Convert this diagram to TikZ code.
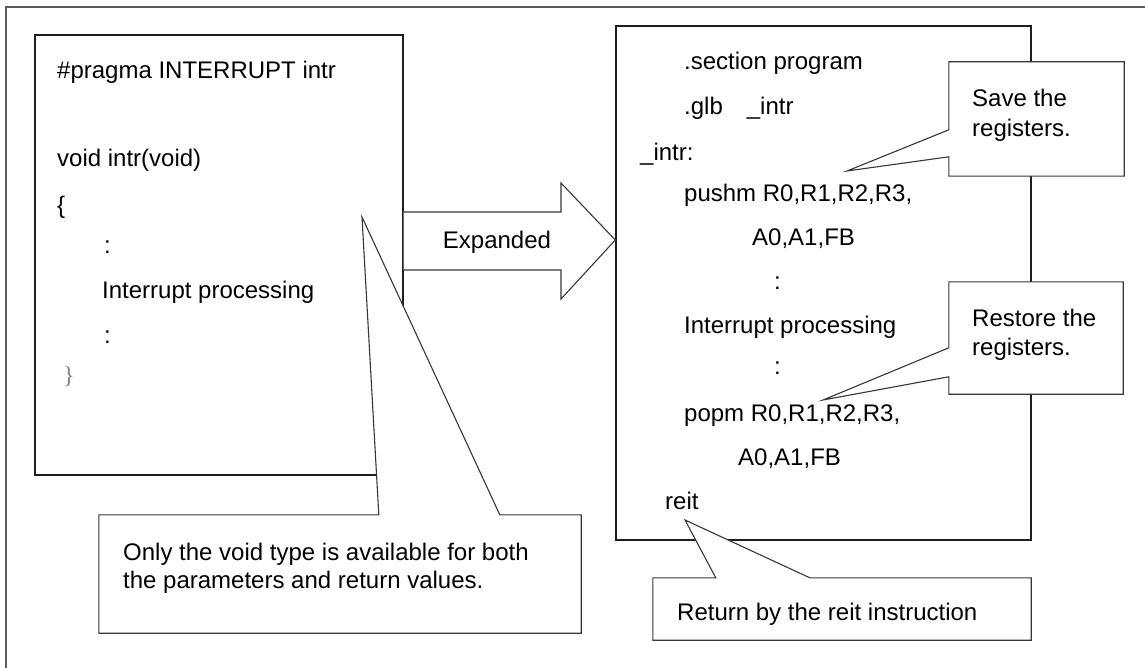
\documentclass[tikz,border=0pt]{standalone}
\usepackage{fontspec}
\setmainfont{Liberation Sans}
\newfontfamily\bracefont{Liberation Serif}
\usepackage{tikz}
\usetikzlibrary{calc}
\definecolor{frame}{RGB}{90, 90, 90}
\definecolor{ink}{RGB}{30, 30, 30}
\definecolor{note}{RGB}{55, 55, 55}
\tikzstyle{codebox} = [rectangle, draw=ink, line width=1.4pt, fill=white, inner sep=0pt]
\tikzstyle{notebox} = [rectangle, draw=none, inner sep=0pt]
\tikzstyle{callout} = [draw=note, line width=1.1pt, fill=white, line join=miter]
\tikzstyle{bigarrow} = [draw=note, line width=1.1pt, fill=white, line join=miter]
\tikzstyle{code} = [anchor=base west, inner sep=0pt, text=black, font=\fontsize{24}{28}\selectfont]

\begin{document}
\begin{tikzpicture}[x=1pt, y=-1pt]
\useasboundingbox (0,0) rectangle (1145,668);

% frame
\draw[frame, line width=1.5pt] (6,668) -- (6,7) -- (1145,7);

% C source =============================
\node[codebox, minimum width=368pt, minimum height=440pt] (src) at (219,255) {};
\node[code] (pragma) at (57,78.5) {\#pragma INTERRUPT intr};
\node[code] (head) at (57,166.5) {void intr(void)};
\node[code] (open) at (57,213.5) {\{};
\node[code] (dots-a) at (104,254) {:};
\node[code] (proc-a) at (102,298.5) {Interrupt processing};
\node[code] (dots-b) at (104,343) {:};
\node[code, text=gray] (close) at (63,383) {\bracefont\}};

% assembler output =============================
\node[codebox, minimum width=415pt, minimum height=514pt] (asm) at (823.5,283) {};
\node[code] (section) at (684,69.5) {.section program};
\node[code] (glb) at (684,114.5) {.glb\hspace*{24pt}\_intr};
\node[code] (label) at (640,160.5) {\_intr:};
\node[code] (push) at (684,201.5) {pushm R0,R1,R2,R3,};
\node[code] (push-b) at (752,245.5) {A0,A1,FB};
\node[code] (dots-c) at (774,289) {:};
\node[code] (proc-b) at (684,333.5) {Interrupt processing};
\node[code] (dots-d) at (774,374) {:};
\node[code] (pop) at (684,421.5) {popm R0,R1,R2,R3,};
\node[code] (pop-b) at (738,465.5) {A0,A1,FB};
\node[code] (reit) at (665,509.5) {reit};

% expansion arrow
\coordinate (tip) at (asm.west |- 0,240);
\draw[bigarrow] (src.east |- 0,212) -- (561,212) -- (561,183) -- (tip)
  -- (561,299) -- (561,270) -- (src.east |- 0,270);
\node[code, anchor=base] (expanded) at (497,248.5) {Expanded};

% callouts =============================
\coordinate (void-tip) at (362,217);
\node[notebox, minimum width=482pt, minimum height=118pt] (only) at (340,574) {};
\draw[callout] (only.north west) -- ($(only.north west)+(280,0)$) -- (void-tip)
  -- ($(only.north west)+(401,0)$) -- (only.north east) -- (only.south east)
  -- (only.south west) -- cycle;
\node[code] (only-a) at (123,560.5) {Only the void type is available for both};
\node[code] (only-b) at (123,588.5) {the parameters and return values.};

\coordinate (push-tip) at (847,171);
\node[notebox, minimum width=175pt, minimum height=114pt] (save) at (1036.5,119) {};
\draw[callout] (save.north west) -- ($(save.north west)+(0,68)$) -- (push-tip)
  -- ($(save.north west)+(0,95)$) -- (save.south west) -- (save.south east)
  -- (save.north east) -- cycle;
\node[code] (save-a) at (972,106.5) {Save the};
\node[code] (save-b) at (972,136.5) {registers.};

\coordinate (pop-tip) at (823,400);
\node[notebox, minimum width=174pt, minimum height=112pt] (restore) at (1036,338) {};
\draw[callout] (restore.north west) -- ($(restore.north west)+(0,66)$) -- (pop-tip)
  -- ($(restore.north west)+(0,95)$) -- (restore.south west) -- (restore.south east)
  -- (restore.north east) -- cycle;
\node[code] (restore-a) at (972,326.5) {Restore the};
\node[code] (restore-b) at (972,355.5) {registers.};

\coordinate (reit-tip) at (685,520);
\node[notebox, minimum width=378pt, minimum height=62pt] (ret) at (842,609) {};
\draw[callout] (ret.north west) -- ($(ret.north west)+(63,0)$) -- (reit-tip)
  -- ($(ret.north west)+(157,0)$) -- (ret.north east) -- (ret.south east)
  -- (ret.south west) -- cycle;
\node[code] (ret-a) at (677,620.5) {Return by the reit instruction};

\end{tikzpicture}
\end{document}
